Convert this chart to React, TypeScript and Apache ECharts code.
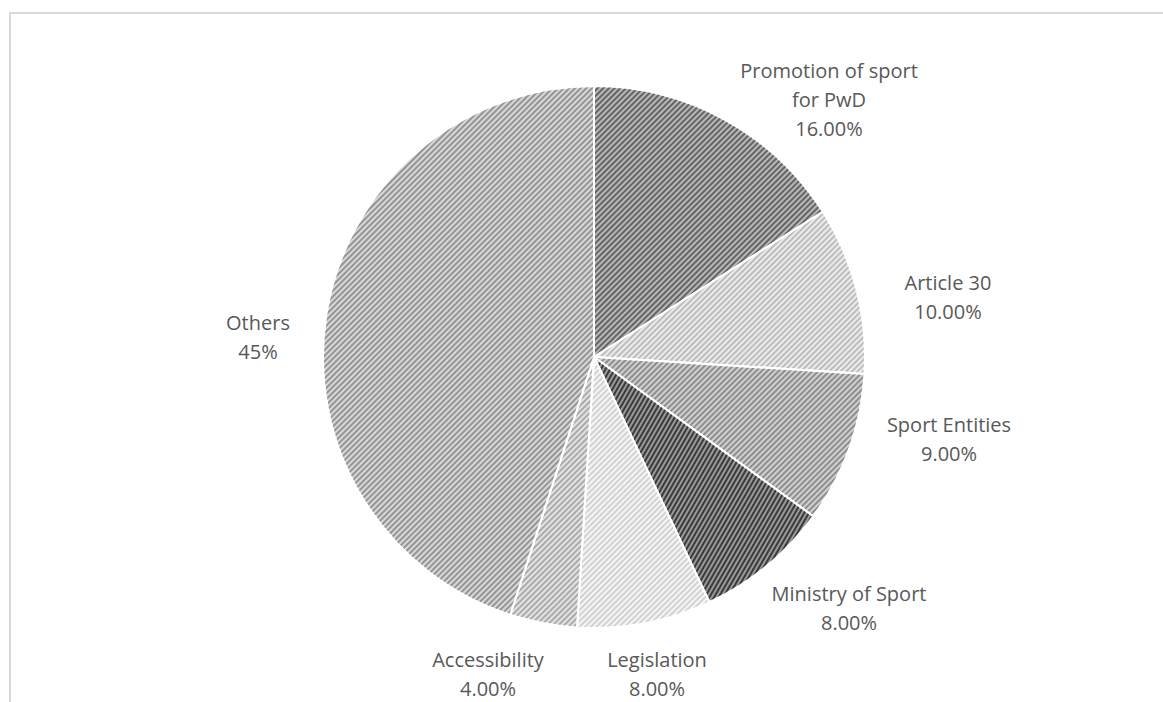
import React, { useEffect, useRef } from "react";
import * as echarts from "echarts";

const categories = [
  "Promotion of sport\nfor PwD",
  "Article 30",
  "Sport Entities",
  "Ministry of Sport",
  "Legislation",
  "Accessibility",
  "Others",
];
const values = [16, 10, 9, 8, 8, 4, 45];
const decimals = [2, 2, 2, 2, 2, 2, 0];

const baseColors = ["#b8b8b8", "#ececec", "#d0d0d0", "#999999", "#f5f5f5", "#e3e3e3", "#d8d8d8"];
const stripeColors = ["#656565", "#bdbdbd", "#8e8e8e", "#3a3a3a", "#d2d2d2", "#ababab", "#959595"];

// label centres relative to pie centre (px)
const labelOffsets: [number, number][] = [
  [235, -258],
  [354, -60],
  [355, 82],
  [255, 251],
  [63, 317],
  [-106, 317],
  [-336, -20],
];

const CX = 594;
const CY = 357;

export default function App() {
  const ref = useRef<HTMLDivElement>(null);
  useEffect(() => {
    if (!ref.current) return;
    const chart = echarts.init(ref.current, undefined, { renderer: "svg" });
    chart.setOption({
      animation: false,
      backgroundColor: "#ffffff",
      graphic: [
        {
          type: "rect",
          shape: { x: 10, y: 13, width: 1200, height: 720 },
          style: { fill: "none", stroke: "#d9d9d9", lineWidth: 2 },
          silent: true,
        },
      ],
      series: [
        {
          type: "pie",
          center: [CX, CY],
          radius: 271,
          startAngle: 90,
          clockwise: true,
          avoidLabelOverlap: false,
          itemStyle: { borderColor: "#ffffff", borderWidth: 2 },
          label: {
            show: true,
            position: "outside",
            fontFamily: "Open Sans",
            fontSize: 20,
            lineHeight: 29,
            color: "#595959",
            align: "center",
            formatter: (p: any) =>
              `${p.name}\n${Number(p.value).toFixed(decimals[p.dataIndex])}%`,
          },
          labelLine: { show: false },
          labelLayout: (p: any) => {
            const o = labelOffsets[p.dataIndex];
            return { x: CX + o[0], y: CY + o[1], align: "center", verticalAlign: "middle" };
          },
          data: categories.map((name, i) => ({
            name,
            value: values[i],
            itemStyle: {
              color: baseColors[i],
              decal: {
                symbol: "rect",
                symbolSize: 1,
                dashArrayX: [1, 0],
                dashArrayY: [2, 2],
                rotation: i === 3 ? -Math.PI / 3 : -Math.PI / 4,
                color: stripeColors[i],
              },
            },
          })),
        },
      ],
    });
    return () => chart.dispose();
  }, []);
  return (
    <div
      ref={ref}
      style={{ position: "fixed", left: 0, top: 0, width: 1163, height: 702 }}
    />
  );
}
